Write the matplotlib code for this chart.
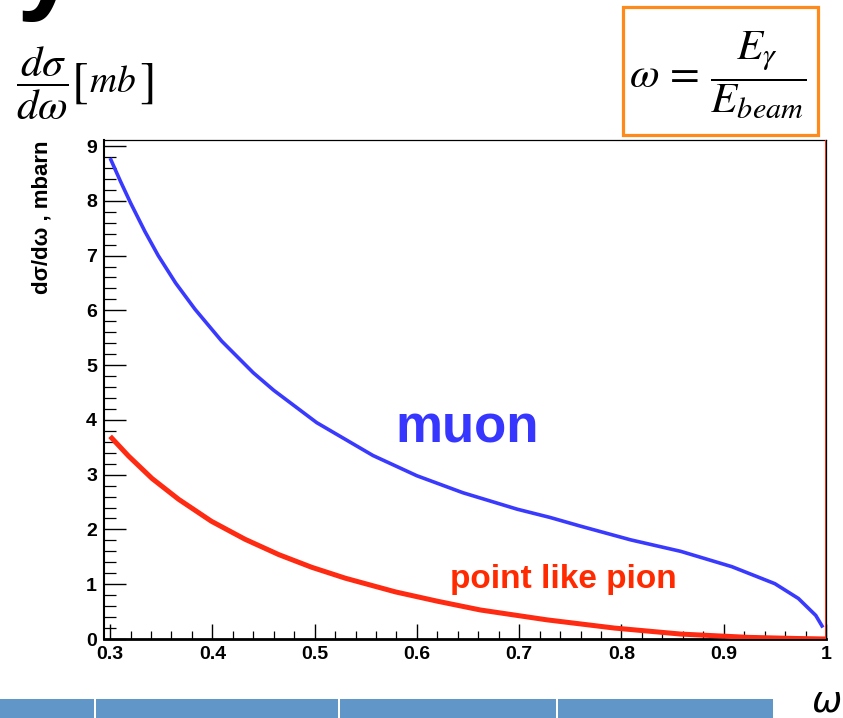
import matplotlib
matplotlib.use("Agg")
import matplotlib.pyplot as plt
from matplotlib.patches import Rectangle
from matplotlib.ticker import MultipleLocator

# Differential cross section dσ/dω (mbarn) versus photon energy fraction ω
omega_muon = [0.300, 0.310, 0.320, 0.334, 0.347, 0.364, 0.383, 0.409, 0.440,
              0.460, 0.502, 0.557, 0.600, 0.645, 0.698, 0.730, 0.760, 0.809,
              0.858, 0.908, 0.950, 0.973, 0.990, 0.997]
xsec_muon = [8.78, 8.36, 7.96, 7.44, 7.00, 6.50, 6.02, 5.44, 4.86,
             4.54, 3.95, 3.35, 2.98, 2.67, 2.37, 2.22, 2.06, 1.81,
             1.60, 1.32, 1.01, 0.74, 0.43, 0.21]

omega_pion = [0.300, 0.318, 0.341, 0.367, 0.399, 0.432, 0.465, 0.497, 0.530,
              0.579, 0.620, 0.662, 0.727, 0.793, 0.858, 0.924, 0.970, 1.000]
xsec_pion = [3.70, 3.34, 2.93, 2.55, 2.15, 1.82, 1.54, 1.31, 1.11,
             0.86, 0.69, 0.53, 0.35, 0.20, 0.09, 0.03, 0.01, 0.00]

x_ticks = [0.3, 0.4, 0.5, 0.6, 0.7, 0.8, 0.9, 1.0]
x_tick_labels = ["0.3", "0.4", "0.5", "0.6", "0.7", "0.8", "0.9", "1"]
y_ticks = [0, 1, 2, 3, 4, 5, 6, 7, 8, 9]
y_tick_labels = ["0", "1", "2", "3", "4", "5", "6", "7", "8", "9"]

W, H = 843, 718
BLUE = "#3a3aff"
RED = "#ff2a12"
SANS = "Liberation Sans"

plt.rcParams["mathtext.fontset"] = "stix"

fig = plt.figure(figsize=(W / 100, H / 100), dpi=100)
fig.patch.set_facecolor("white")


def px(x, y):
    return x / W, 1 - y / H


# plot frame
ax = fig.add_axes([104 / W, 79 / H, 722 / W, 499 / H])
ax.set_xlim(0.294, 1.0)
ax.set_ylim(0, 9.11)

ax.plot(omega_muon, xsec_muon, color=BLUE, lw=2.6, solid_joinstyle="round",
        solid_capstyle="butt", zorder=3)
ax.plot(omega_pion, xsec_pion, color=RED, lw=3.6, solid_joinstyle="round",
        solid_capstyle="butt", zorder=3)
ax.axvline(1.0, color=RED, lw=1.4, zorder=4)

ax.text(0.579, 3.58, "muon", color="#3636ff", fontsize=38, fontweight="bold",
        family=SANS, ha="left", va="baseline")
ax.text(0.632, 0.93, "point like pion", color="#ff2a00", fontsize=24,
        fontweight="bold", family=SANS, ha="left", va="baseline")

ax.set_xticks(x_ticks)
ax.set_xticklabels(x_tick_labels)
ax.set_yticks(y_ticks)
ax.set_yticklabels(y_tick_labels)
ax.xaxis.set_minor_locator(MultipleLocator(0.02))
ax.yaxis.set_minor_locator(MultipleLocator(0.2))
ax.tick_params(axis="x", which="major", direction="in", length=11, width=1.0,
               pad=5, labelsize=14, top=False)
ax.tick_params(axis="x", which="minor", direction="in", length=5.5, width=0.9,
               top=False)
ax.tick_params(axis="y", which="major", direction="in", length=15.5, width=1.0,
               pad=5, labelsize=14, right=False)
ax.tick_params(axis="y", which="minor", direction="in", length=8.5, width=0.9,
               right=False)
for lab in ax.get_xticklabels() + ax.get_yticklabels():
    lab.set_fontweight("bold")
    lab.set_family(SANS)

ax.spines["left"].set_linewidth(1.5)
ax.spines["bottom"].set_linewidth(2.0)
ax.spines["top"].set_linewidth(0.9)
ax.spines["right"].set_linewidth(0.9)
for s in ax.spines.values():
    s.set_color("black")

fig.text(*px(42, 140), "dσ/dω , mbarn", rotation=90, fontsize=16,
         fontweight="bold", family=SANS, ha="center", va="top")

# quantity and units above the frame
fig.text(*px(16, 83), r"$\dfrac{d\sigma}{d\omega}$", fontsize=31,
         ha="left", va="center")
fig.text(*px(71, 82), r"$[$", fontsize=36, ha="left", va="center")
fig.text(*px(89, 92), r"$mb$", fontsize=27, ha="left", va="baseline")
fig.text(*px(153, 82), r"$]$", fontsize=36, ha="right", va="center")

# definition of omega in an orange box
x0, y0 = px(623, 135)
x1, y1 = px(818, 7)
fig.patches.append(Rectangle((x0, y0), x1 - x0, y1 - y0, transform=fig.transFigure,
                             fill=False, edgecolor="#ff8a1c", lw=2.3))
fig.text(*px(718, 75), r"$\omega\,=\,\dfrac{E_{\gamma}}{E_{beam}}$", fontsize=31,
         ha="center", va="center")

# tail of the heading glyph at the top edge
fig.text(16 / W, 1.0 + 1 / H, "y", fontsize=80, fontweight="bold", family=SANS,
         ha="left", va="baseline")

# table header strip along the bottom
for a, b in [(0, 94), (96, 338), (340, 556), (558, 773)]:
    fig.patches.append(Rectangle((a / W, 0), (b - a) / W, 19 / H,
                                 transform=fig.transFigure, facecolor="#6196c9",
                                 edgecolor="none"))

fig.text(*px(827, 702), "ω", fontsize=26, style="italic", family="DejaVu Sans",
         ha="center", va="center")

fig.savefig("out.png", dpi=100)
